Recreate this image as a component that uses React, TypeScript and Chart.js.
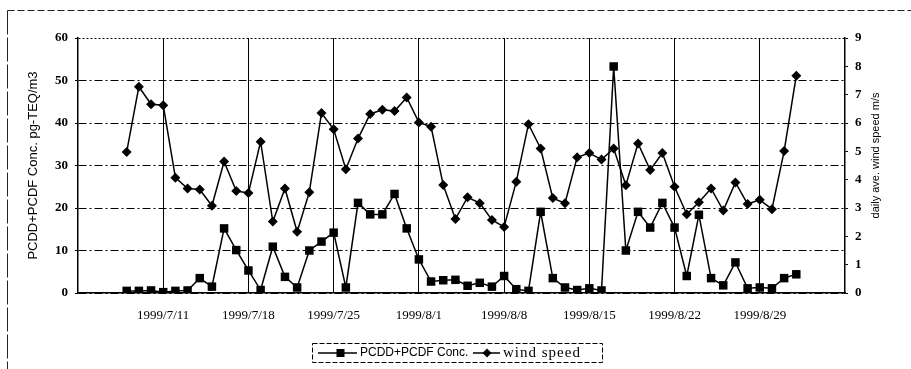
import React, { useEffect, useRef } from 'react';
import { Chart, registerables } from 'chart.js';

Chart.register(...registerables);

// ---- data ----
const dates = [
  '1999/7/8', '1999/7/9', '1999/7/10', '1999/7/11', '1999/7/12', '1999/7/13', '1999/7/14', '1999/7/15',
  '1999/7/16', '1999/7/17', '1999/7/18', '1999/7/19', '1999/7/20', '1999/7/21', '1999/7/22', '1999/7/23',
  '1999/7/24', '1999/7/25', '1999/7/26', '1999/7/27', '1999/7/28', '1999/7/29', '1999/7/30', '1999/7/31',
  '1999/8/1', '1999/8/2', '1999/8/3', '1999/8/4', '1999/8/5', '1999/8/6', '1999/8/7', '1999/8/8',
  '1999/8/9', '1999/8/10', '1999/8/11', '1999/8/12', '1999/8/13', '1999/8/14', '1999/8/15', '1999/8/16',
  '1999/8/17', '1999/8/18', '1999/8/19', '1999/8/20', '1999/8/21', '1999/8/22', '1999/8/23', '1999/8/24',
  '1999/8/25', '1999/8/26', '1999/8/27', '1999/8/28', '1999/8/29', '1999/8/30', '1999/8/31', '1999/9/1',
];

const concValues = [
  0.5, 0.5, 0.6, 0.2, 0.5, 0.6, 3.5, 1.5,
  15.2, 10.1, 5.3, 0.7, 10.9, 3.8, 1.3, 10.0,
  12.1, 14.2, 1.3, 21.2, 18.5, 18.5, 23.3, 15.2,
  7.9, 2.7, 3.0, 3.1, 1.7, 2.4, 1.5, 4.0,
  0.9, 0.5, 19.1, 3.5, 1.3, 0.7, 1.1, 0.6,
  53.3, 10.0, 19.1, 15.4, 21.2, 15.4, 4.0, 18.4,
  3.5, 1.8, 7.2, 1.1, 1.3, 1.1, 3.5, 4.4,
];

const windValues = [
  4.98, 7.28, 6.66, 6.63, 4.07, 3.69, 3.65, 3.08,
  4.64, 3.6, 3.53, 5.34, 2.52, 3.69, 2.16, 3.56,
  6.35, 5.78, 4.37, 5.45, 6.32, 6.47, 6.42, 6.9,
  6.02, 5.87, 3.81, 2.61, 3.38, 3.17, 2.58, 2.33,
  3.93, 5.96, 5.1, 3.35, 3.17, 4.79, 4.94, 4.71,
  5.1, 3.8, 5.28, 4.34, 4.94, 3.75, 2.78, 3.2,
  3.69, 2.91, 3.9, 3.14, 3.29, 2.96, 5.01, 7.67,
];

const tickDates = ['1999/7/11', '1999/7/18', '1999/7/25', '1999/8/1', '1999/8/8', '1999/8/15', '1999/8/22', '1999/8/29'];
const axisStart = '1999/7/4';
const axisEnd = '1999/9/5';
const seriesNames = ['PCDD+PCDF Conc.', 'wind speed'];
const leftTitle = 'PCDD+PCDF Conc. pg-TEQ/m3';
const rightTitle = 'daily ave. wind speed m/s';
const leftMax = 60;
const rightMax = 9;

function dayNum(s: string): number {
  const [y, m, d] = s.split('/').map(Number);
  return Date.UTC(y, m - 1, d) / 86400000;
}

const decorPlugin = {
  id: 'decor',
  afterDraw(chart: any) {
    const ctx = chart.ctx as CanvasRenderingContext2D;
    const area = chart.chartArea;
    ctx.save();
    // outer chart frame (top & left)
    ctx.strokeStyle = '#222';
    ctx.lineWidth = 1;
    ctx.setLineDash([7, 3]);
    ctx.beginPath();
    ctx.moveTo(7.5, 10.5);
    ctx.lineTo(911, 10.5);
    ctx.stroke();
    ctx.setLineDash([24, 3]);
    ctx.beginPath();
    ctx.moveTo(7.5, 10.5);
    ctx.lineTo(7.5, 369);
    ctx.stroke();

    // right axis title (reads bottom-to-top)
    ctx.setLineDash([]);
    ctx.fillStyle = '#000';
    ctx.font = '11px "Liberation Sans"';
    ctx.textAlign = 'center';
    ctx.textBaseline = 'middle';
    ctx.translate(876, (area.top + area.bottom) / 2 - 10);
    ctx.rotate(-Math.PI / 2);
    ctx.fillText(rightTitle, 0, 0);
    ctx.restore();

    // legend
    ctx.save();
    const bx = 312, by = 343, bw = 290, bh = 19;
    const cy = by + bh / 2 + 0.5;
    ctx.strokeStyle = '#000';
    ctx.lineWidth = 1;
    ctx.setLineDash([5, 2]);
    ctx.strokeRect(bx + 0.5, by + 0.5, bw, bh);
    ctx.setLineDash([]);
    ctx.lineWidth = 1.5;
    // item 1
    ctx.beginPath();
    ctx.moveTo(318, cy);
    ctx.lineTo(357, cy);
    ctx.stroke();
    ctx.fillStyle = '#000';
    ctx.fillRect(336.5, cy - 4, 8, 8);
    ctx.font = '12px "Liberation Sans"';
    ctx.textAlign = 'left';
    ctx.textBaseline = 'middle';
    ctx.fillText(seriesNames[0], 360, cy);
    // item 2
    ctx.beginPath();
    ctx.moveTo(473, cy);
    ctx.lineTo(500, cy);
    ctx.stroke();
    ctx.beginPath();
    ctx.moveTo(487, cy - 4.5);
    ctx.lineTo(491.5, cy);
    ctx.lineTo(487, cy + 4.5);
    ctx.lineTo(482.5, cy);
    ctx.closePath();
    ctx.fill();
    ctx.font = '15px "Liberation Serif"';
    (ctx as any).letterSpacing = '1px';
    ctx.fillText(seriesNames[1], 503, cy);
    ctx.restore();
  },
};

export default function App() {
  const canvasRef = useRef<HTMLCanvasElement | null>(null);

  useEffect(() => {
    const canvas = canvasRef.current;
    if (!canvas) return;
    const xs = dates.map(dayNum);
    const tickVals = tickDates.map(dayNum);
    const chart = new Chart(canvas, {
      type: 'line',
      data: {
        datasets: [
          {
            label: seriesNames[0],
            data: xs.map((x, i) => ({ x, y: concValues[i] })),
            yAxisID: 'y',
            borderColor: '#000',
            backgroundColor: '#000',
            borderWidth: 1.5,
            pointStyle: 'rect',
            pointRadius: 6,
            pointBorderWidth: 0,
            tension: 0,
          },
          {
            label: seriesNames[1],
            data: xs.map((x, i) => ({ x, y: windValues[i] })),
            yAxisID: 'y1',
            borderColor: '#000',
            backgroundColor: '#000',
            borderWidth: 1.5,
            pointStyle: 'rectRot',
            pointRadius: 5,
            pointBorderWidth: 0,
            tension: 0,
          },
        ],
      },
      options: {
        responsive: false,
        animation: false,
        events: [],
        layout: { padding: { top: 38, left: 0, right: 0, bottom: 0 } },
        plugins: {
          legend: { display: false },
          tooltip: { enabled: false },
        },
        scales: {
          x: {
            type: 'linear',
            min: dayNum(axisStart),
            max: dayNum(axisEnd),
            afterBuildTicks: (scale: any) => {
              scale.ticks = tickVals.map((v) => ({ value: v }));
            },
            afterFit: (scale: any) => {
              scale.height = 76;
            },
            ticks: {
              autoSkip: false,
              maxRotation: 0,
              padding: 15,
              color: '#000',
              font: { family: '"Liberation Serif"', size: 13 },
              callback: (_v: any, i: number) => tickDates[i],
            },
            grid: { color: '#000', lineWidth: 1, drawTicks: false },
            border: { color: '#000', width: 1.5 },
          },
          y: {
            position: 'left',
            min: 0,
            max: leftMax,
            afterFit: (scale: any) => {
              scale.width = 78;
            },
            ticks: {
              stepSize: 10,
              padding: 7,
              color: '#000',
              font: { family: '"Liberation Serif"', size: 13, weight: 'bold' },
            },
            grid: { color: '#000', lineWidth: 1, tickLength: 3, tickColor: '#000' },
            border: {
              color: '#000',
              width: 1.5,
              dash: (c: any) => (c.tick && c.tick.value === leftMax ? [2, 2] : [8, 3, 2, 3]),
            },
            title: {
              display: true,
              text: leftTitle,
              color: '#000',
              font: { family: '"Liberation Sans"', size: 13 },
              padding: { top: 26, bottom: 0 },
            },
          },
          y1: {
            position: 'right',
            min: 0,
            max: rightMax,
            afterFit: (scale: any) => {
              scale.width = 66;
            },
            ticks: {
              stepSize: 1,
              padding: 7,
              color: '#000',
              font: { family: '"Liberation Serif"', size: 13, weight: 'bold' },
            },
            grid: { drawOnChartArea: false, tickLength: 3, tickColor: '#000' },
            border: { color: '#000', width: 1.5 },
          },
        },
      },
      plugins: [decorPlugin],
    } as any);
    return () => chart.destroy();
  }, []);

  return (
    <div style={{ position: 'fixed', left: 0, top: 0, width: 911, height: 369, background: '#fff' }}>
      <canvas ref={canvasRef} width={911} height={369} style={{ display: 'block' }} />
    </div>
  );
}
